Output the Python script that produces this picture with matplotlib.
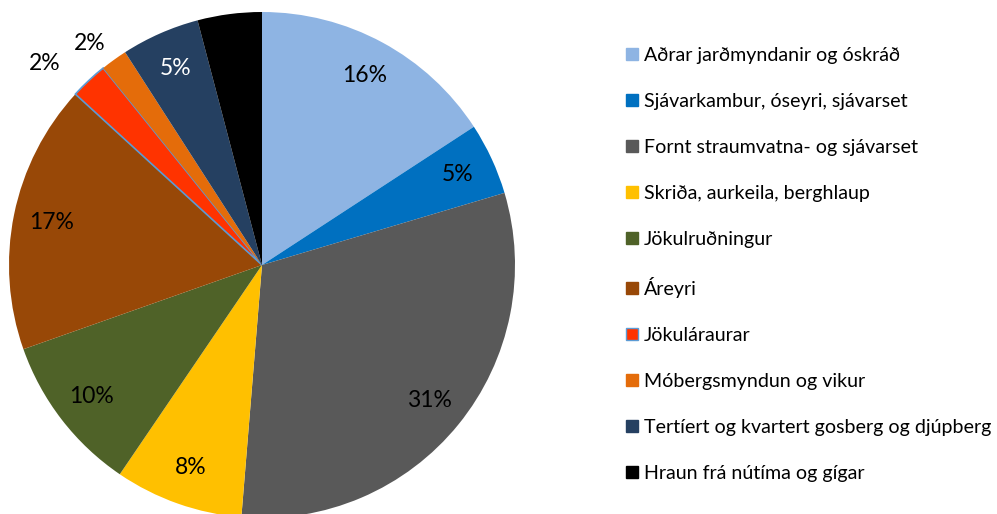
import matplotlib
matplotlib.use("Agg")
import matplotlib.pyplot as plt
from matplotlib.patches import Patch
import numpy as np

categories = [
    "Aðrar jarðmyndanir og óskráð",
    "Sjávarkambur, óseyri, sjávarset",
    "Fornt straumvatna- og sjávarset",
    "Skriða, aurkeila, berghlaup",
    "Jökulruðningur",
    "Áreyri",
    "Jökuláraurar",
    "Móbergsmyndun og vikur",
    "Tertíert og kvartert gosberg og djúpberg",
    "Hraun frá nútíma og gígar",
]
values = [15.8, 4.6, 30.9, 8.2, 10.1, 17.2, 2.4, 1.7, 5.0, 4.1]
labels = ["16%", "5%", "31%", "8%", "10%", "17%", "2%", "2%", "5%", ""]
colors = ["#8EB4E3", "#0070C0", "#595959", "#FFC000", "#4F6228",
          "#984807", "#FF3300", "#E46C0A", "#254061", "#000000"]
label_colors = ["black"] * 8 + ["white", "white"]

plt.rcParams['font.family'] = ['Lato', 'DejaVu Sans']

W, H = 997, 514
fig = plt.figure(figsize=(W / 100, H / 100), dpi=100)
cx, cy, r = 262, 265, 253
ax = fig.add_axes([(cx - r) / W, (H - cy - r) / H, 2 * r / W, 2 * r / H])

wedges, _ = ax.pie(values, colors=colors, startangle=90, counterclock=False,
                   radius=1, wedgeprops=dict(linewidth=0))
wedges[6].set_edgecolor("#5B9BD5")
wedges[6].set_linewidth(1.2)

for i, (w, lab, lc) in enumerate(zip(wedges, labels, label_colors)):
    if not lab:
        continue
    mid = (w.theta1 + w.theta2) / 2
    small = (w.theta2 - w.theta1) < 10
    if small:
        rr = 1.17 if i == 6 else 1.11
        mid = mid + 4 if i == 6 else mid + 2
    else:
        rr = 0.85
    ang = np.deg2rad(mid)
    ax.text(rr * np.cos(ang), rr * np.sin(ang), lab, ha="center", va="center",
            fontsize=16.5, color="black" if small else lc, clip_on=False)

ax.set_xlim(-1, 1)
ax.set_ylim(-1, 1)
ax.set_aspect("equal")
ax.axis("off")

handles = [Patch(facecolor=c, edgecolor=("#5B9BD5" if i == 6 else c), linewidth=1)
           for i, c in enumerate(colors)]
fig.legend(handles, categories, loc="upper left",
           bbox_to_anchor=(626 / W, 1 - 47 / H), frameon=False,
           fontsize=14.1, handlelength=0.6, handleheight=0.6, handletextpad=0.3,
           labelspacing=1.48, borderaxespad=0, borderpad=0)

fig.savefig("out.png", dpi=100)
